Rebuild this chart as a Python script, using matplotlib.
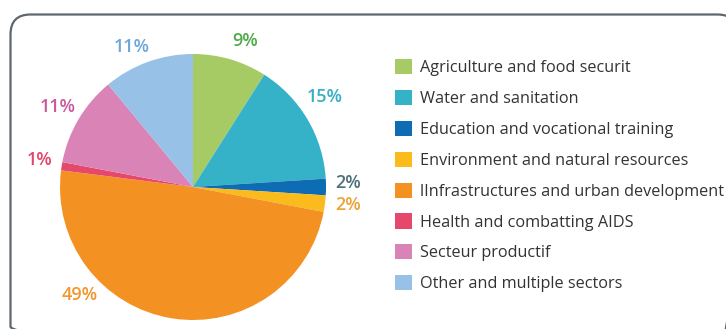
import matplotlib.pyplot as plt
from matplotlib.patches import FancyBboxPatch

# Datos del grafico
sectores = [
    "Agriculture and food securit",
    "Water and sanitation",
    "Education and vocational training",
    "Environment and natural resources",
    "lInfrastructures and urban development",
    "Health and combatting AIDS",
    "Secteur productif",
    "Other and multiple sectors",
]
porcentajes = [9, 15, 2, 2, 49, 1, 11, 11]
colores = ["#a6ca64", "#36b2c8", "#0d6cb3", "#fbbb1c", "#f39222", "#e5486a", "#da83b6", "#97c1e6"]
colores_texto = ["#4fab48", "#37b0c6", "#4e7079", "#eba437", "#f2962c", "#e2486b", "#cb5a9d", "#6ea7dc"]

# Posicion de cada etiqueta en unidades del radio de la tarta
pos_etiquetas = [(0.39, 1.10), (0.99, 0.68), (1.17, 0.03), (1.17, -0.135),
                 (-0.85, -0.81), (-1.15, 0.20), (-1.02, 0.60), (-0.46, 1.05)]

plt.rcParams["font.family"] = ["Open Sans", "DejaVu Sans"]

fig = plt.figure(figsize=(7.26, 3.29), dpi=100)

# Marco redondeado de fondo (en pixeles), cortado por abajo y a la derecha
fondo = fig.add_axes([0, 0, 1, 1])
fondo.set_xlim(0, 726)
fondo.set_ylim(329, 0)
fondo.axis("off")
fondo.add_patch(FancyBboxPatch((10.5, 14.5), 727, 332,
                               boxstyle="round,pad=0,rounding_size=20",
                               fill=False, edgecolor="#5d6770", linewidth=1.6))

# Tarta: centro (193, 187) px, radio 133 px
cx, cy, r = 193, 187, 133
ax = fig.add_axes([(cx - r) / 726, (329 - cy - r) / 329, 2 * r / 726, 2 * r / 329])
wedges, textos = ax.pie(
    porcentajes,
    colors=colores,
    startangle=90,
    counterclock=False,
    labels=[f"{p}%" for p in porcentajes],
    wedgeprops=dict(linewidth=0),
    textprops=dict(fontsize=13, fontweight="semibold"),
)
ax.set_xlim(-1, 1)
ax.set_ylim(-1, 1)
ax.axis("off")

# Colores y posicion de las etiquetas
for t, c, p in zip(textos, colores_texto, pos_etiquetas):
    t.set_color(c)
    t.set_ha("center")
    t.set_va("center")
    t.set_position(p)

# Leyenda a la derecha
fig.legend(
    wedges, sectores,
    loc="upper left",
    bbox_to_anchor=(395 / 726, 1 - 59 / 329),
    frameon=False,
    fontsize=11.7,
    labelcolor="#333333",
    handlelength=1.05,
    handleheight=1.05,
    handletextpad=0.5,
    labelspacing=0.85,
    borderpad=0,
    borderaxespad=0,
)

fig.savefig("out.png", dpi=100)
